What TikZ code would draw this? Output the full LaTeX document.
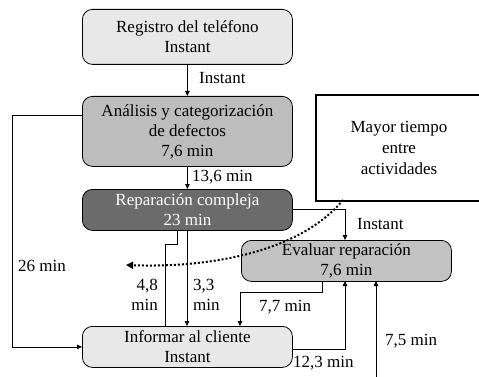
\documentclass[tikz,border=0pt]{standalone}
\usepackage{fontspec}
\setmainfont{Liberation Serif}
\usetikzlibrary{arrows.meta}
\definecolor{boxlight}{HTML}{E8E8E8}
\definecolor{boxmid}{HTML}{BDBDBD}
\definecolor{boxdark}{HTML}{6B6B6B}
\definecolor{boxeval}{HTML}{C2C2C2}
\begin{document}
\begin{tikzpicture}[x=1pt,y=-1pt,
  every node/.style={font=\fontsize{17}{20}\selectfont, inner sep=0pt},
  proc/.style={draw=black, line width=0.8pt, rounded corners=10pt, align=center,
    minimum width=210pt, anchor=north west},
  conn/.style={draw=black, line width=0.8pt},
  arr/.style={conn, -{Triangle[length=5pt,width=4.5pt]}},
  dotflow/.style={line width=2pt, dotted, -{Triangle[length=7pt,width=7pt]}}
]
\useasboundingbox (0,0) rectangle (479,377);

% process boxes
\node[proc, fill=boxlight, minimum height=55pt] (b1) at (82,9) {Registro del teléfono\\Instant};
\node[proc, fill=boxmid, minimum height=70pt] (b2) at (82,96) {Análisis y categorización\\de defectos\\7,6 min};
\node[proc, fill=boxdark, text=white, minimum height=41pt] (b3) at (82,189) {Reparación compleja\\23 min};
\node[proc, fill=boxeval, minimum height=41pt] (b4) at (241,240) {Evaluar reparación\\7,6 min};
\node[proc, fill=boxlight, minimum height=41pt] (b5) at (82,326) {Informar al cliente\\Instant};

% note box
\node[draw=black, line width=2pt, fill=white, minimum width=166pt, minimum height=106pt,
  anchor=north west, align=center, font=\fontsize{17}{21}\selectfont] (note) at (315,94)
  {Mayor tiempo\\entre\\actividades};

% free ends and bends
\coordinate (b2out) at (82,115);
\coordinate (b3r) at (292,209);
\coordinate (b3a) at (177,230);
\coordinate (b3b) at (187,230);
\coordinate (b4a) at (322,281);
\coordinate (b5r) at (292,349);
\coordinate (ext) at (376,377);

% connectors
\draw[arr] (b1.south) -- (b2.north);
\draw[arr] (b2.south) -- (b3.north);
\draw[arr] (b2out) -- (12,115) |- (b5.west);
\draw[conn] (b3a) -- (177,244) -- (165,244) -- (165,326);
\draw[arr] (b3b) -- (b5.north -| b3b);
\draw[arr] (b4a) -- (322,292) -- (240,292) -- (240,326);
\draw[arr] (b5r) -- (345,349) -- (345,281);
\draw[arr] (ext) -- (376,281);
\draw[arr] (b3r) -- (345,209) -- (345,240);

% labels
\node[anchor=west] (l1) at (199,78) {Instant};
\node[anchor=west] (l2) at (192,177) {13,6 min};
\node[anchor=west] (l3) at (18,266) {26 min};
\node[anchor=east, align=right] (l4) at (158,295) {4,8\\min};
\node[anchor=west, align=left] (l5) at (193,295) {3,3\\min};
\node[anchor=west] (l6) at (259,307) {7,7 min};
\node[anchor=west] (l7) at (293,363) {12,3 min};
\node[anchor=west] (l8) at (385,341) {7,5 min};
\node[anchor=west] (l9) at (357,224) {Instant};

% highlighted longest waiting time
\draw[dotflow] (343,200) .. controls (300,252) and (210,268) .. (126,265);
\end{tikzpicture}
\end{document}
